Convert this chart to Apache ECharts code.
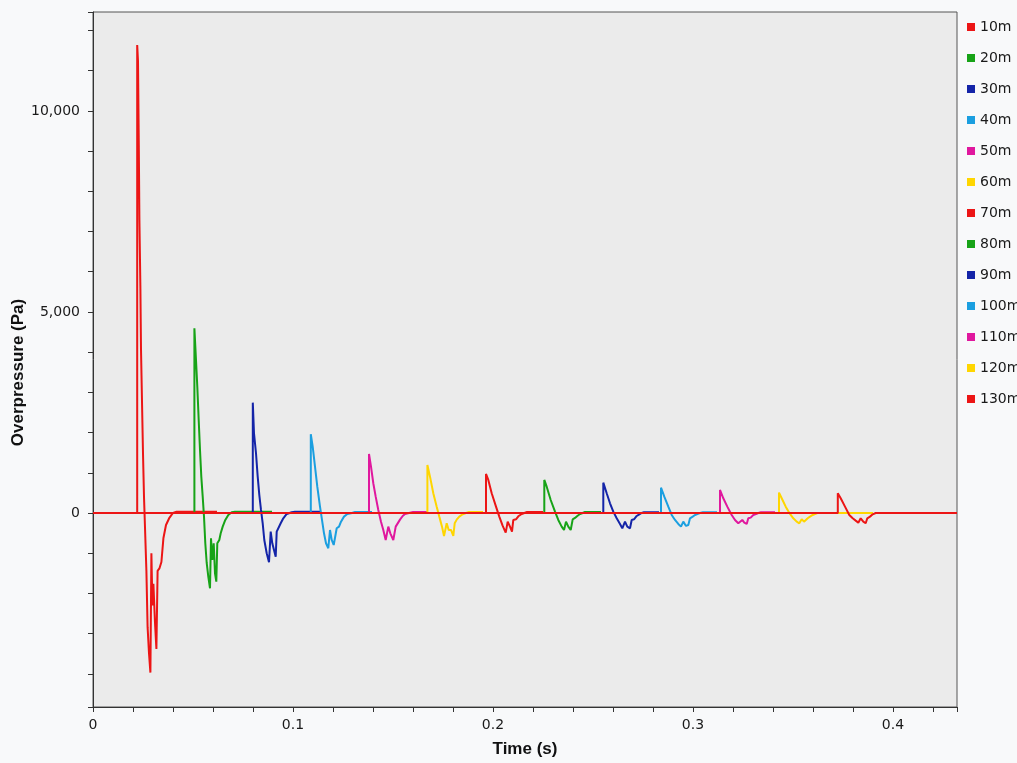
<!DOCTYPE html>
<html>
<head>
  <meta charset="utf-8">
  <title>Overpressure</title>
  <script src="https://cdn.jsdelivr.net/npm/echarts@6/dist/echarts.min.js"></script>
  <style>
    html, body { margin: 0; padding: 0; background: #f8f9fa; }
  </style>
</head>
<body>
  <div id="main" style="width:1017px;height:763px;"></div>
  <script type="text/javascript">
    // time (s), overpressure (Pa)
    var p10m = [[0,0],[0.0221,0],[0.0221,11640],[0.0225,11240],[0.0229,9140],[0.0232,7300],[0.0237,5580],[0.0240,4070],[0.0245,2770],[0.0250,1480],[0.0255,400],[0.0260,-360],[0.0267,-1440],[0.0273,-2840],[0.0280,-3490],[0.0287,-3970],[0.0292,-1000],[0.0297,-2300],[0.0302,-1760],[0.0310,-2730],[0.0317,-3380],[0.0323,-1440],[0.0332,-1380],[0.0342,-1220],[0.0352,-630],[0.0365,-300],[0.0382,-120],[0.0400,0],[0.0418,33],[0.062,33]];
    var p20m = [[0,0],[0.0507,0],[0.0507,4594],[0.0515,3806],[0.05215,3142],[0.05285,2313],[0.0535,1567],[0.05415,903],[0.05485,406],[0.0555,-91],[0.05615,-754],[0.05685,-1244],[0.05765,-1584],[0.0585,-1874],[0.059,-630],[0.05965,-1169],[0.06035,-754],[0.061,-1500],[0.06165,-1708],[0.06215,-754],[0.06315,-672],[0.06385,-506],[0.06485,-340],[0.06615,-174],[0.06765,-50],[0.06935,17],[0.071,30],[0.0895,30]];
    var p30m = [[0,0],[0.0799,0],[0.0799,2744],[0.0805,1982],[0.0815,1485],[0.08235,903],[0.08315,448],[0.084,75],[0.08485,-257],[0.08565,-672],[0.08685,-1003],[0.088,-1227],[0.08885,-465],[0.08965,-754],[0.0905,-920],[0.09135,-1087],[0.09185,-465],[0.09285,-423],[0.09385,-257],[0.09515,-133],[0.09685,-25],[0.09935,17],[0.101,30],[0.1135,30]];
    var p40m = [[0,0],[0.1089,0],[0.1089,1958],[0.10985,1650],[0.111,1152],[0.11215,654],[0.1135,157],[0.1145,-174],[0.1155,-506],[0.1165,-754],[0.11765,-878],[0.1185,-423],[0.11935,-672],[0.12035,-796],[0.12135,-821],[0.12185,-381],[0.123,-340],[0.124,-216],[0.1255,-91],[0.12715,-25],[0.1295,0],[0.131,25],[0.1395,25]];
    var p50m = [[0,0],[0.138,0],[0.138,1468],[0.139,1152],[0.14015,739],[0.14135,406],[0.14265,75],[0.144,-216],[0.14515,-423],[0.14635,-672],[0.147,-655],[0.14765,-340],[0.14865,-506],[0.14935,-547],[0.15015,-672],[0.151,-672],[0.15135,-340],[0.15235,-299],[0.1535,-166],[0.15485,-75],[0.156,-25],[0.158,0],[0.160,25],[0.167,25]];
    var p60m = [[0,0],[0.1672,0],[0.1672,1194],[0.1685,903],[0.17015,490],[0.17185,157],[0.17315,-91],[0.1745,-340],[0.1755,-572],[0.17685,-257],[0.17785,-423],[0.179,-423],[0.18015,-572],[0.18085,-257],[0.18185,-166],[0.18315,-91],[0.18485,-33],[0.1865,0],[0.188,25],[0.195,25]];
    var p70m = [[0,0],[0.1965,0],[0.1965,970],[0.19765,821],[0.19935,490],[0.2015,157],[0.20315,-91],[0.20485,-323],[0.20635,-489],[0.20735,-216],[0.2085,-340],[0.2095,-465],[0.21015,-174],[0.2115,-158],[0.21285,-75],[0.21435,-25],[0.2157,0],[0.217,25],[0.225,25]];
    var p80m = [[0,0],[0.22565,0],[0.22565,821],[0.22685,654],[0.22885,323],[0.231,33],[0.23265,-174],[0.23435,-340],[0.2355,-423],[0.2365,-216],[0.23765,-340],[0.23885,-423],[0.23985,-158],[0.241,-124],[0.24215,-75],[0.2435,-25],[0.24485,0],[0.246,25],[0.254,25]];
    var p90m = [[0,0],[0.25515,0],[0.25515,754],[0.25685,490],[0.2585,241],[0.26015,33],[0.26185,-133],[0.2635,-274],[0.26465,-381],[0.266,-216],[0.26715,-340],[0.2685,-381],[0.26935,-174],[0.2705,-158],[0.27185,-75],[0.27315,-33],[0.27435,0],[0.2755,20],[0.283,20]];
    var p100m = [[0,0],[0.284,0],[0.284,630],[0.28565,406],[0.28765,157],[0.28935,-50],[0.291,-174],[0.29265,-274],[0.294,-340],[0.29515,-216],[0.2965,-323],[0.29765,-299],[0.2985,-133],[0.29985,-91],[0.301,-50],[0.30215,-25],[0.3035,0],[0.305,20],[0.312,20]];
    var p110m = [[0,0],[0.3135,0],[0.3135,572],[0.31515,365],[0.31715,157],[0.31935,-50],[0.321,-174],[0.32265,-257],[0.3235,-299],[0.32465,-174],[0.32565,-241],[0.32685,-274],[0.32765,-133],[0.32885,-116],[0.33015,-50],[0.3315,-25],[0.33265,0],[0.334,20],[0.341,20]];
    var p120m = [[0,0],[0.343,0],[0.343,506],[0.34435,365],[0.34635,157],[0.3485,-25],[0.35015,-133],[0.35185,-216],[0.35315,-257],[0.35435,-158],[0.3555,-216],[0.3565,-257],[0.35735,-133],[0.3585,-91],[0.35985,-50],[0.361,-25],[0.36215,0],[0.39,0]];
    var p130m = [[0,0],[0.3724,0],[0.3724,490],[0.37385,365],[0.376,157],[0.37815,-50],[0.37985,-133],[0.38135,-191],[0.38265,-241],[0.38385,-133],[0.38515,-216],[0.38635,-257],[0.38715,-133],[0.3885,-91],[0.38985,-33],[0.39135,0],[0.432,0]];

    var names = ['10m','20m','30m','40m','50m','60m','70m','80m','90m','100m','110m','120m','130m'];
    var values = [p10m,p20m,p30m,p40m,p50m,p60m,p70m,p80m,p90m,p100m,p110m,p120m,p130m];
    var colors = ['#ec1515','#17a317','#1424a8','#1b9fe0','#e0189e','#ffd600'];

    var myChart = echarts.init(document.getElementById('main'));

    var series = names.map(function (n, i) {
      return {
        name: n,
        type: 'line',
        data: values[i],
        showSymbol: false,
        symbol: 'none',
        lineStyle: { width: 2, color: colors[i % 6] },
        itemStyle: { color: colors[i % 6] },
        emphasis: { disabled: true }
      };
    });

    var option = {
      animation: false,
      backgroundColor: '#f8f9fa',
      grid: {
        left: 93, top: 12, right: 60, bottom: 56,
        containLabel: false, outerBoundsMode: 'none',
        show: true, backgroundColor: '#ebebeb', borderColor: '#555', borderWidth: 1
      },
      legend: {
        orient: 'vertical',
        left: 962, top: 15,
        icon: 'rect',
        itemWidth: 8, itemHeight: 8, itemGap: 17,
        textStyle: { fontFamily: 'DejaVu Sans', fontSize: 14, color: '#1a1a1a', lineHeight: 14 },
        data: names
      },
      xAxis: {
        type: 'value',
        min: 0, max: 0.432, interval: 0.02,
        name: 'Time (s)', nameLocation: 'middle', nameGap: 34,
        nameTextStyle: { fontFamily: 'Liberation Sans', fontWeight: 'bold', fontSize: 17, color: '#111' },
        axisLine: { onZero: false, lineStyle: { color: '#333', width: 1 } },
        axisTick: { show: true, length: 5, lineStyle: { color: '#333' } },
        splitLine: { show: false },
        axisLabel: {
          margin: 11, fontFamily: 'DejaVu Sans', fontSize: 14, color: '#1a1a1a',
          formatter: function (v) {
            var k = v * 10;
            return Math.abs(k - Math.round(k)) < 1e-6 ? String(Math.round(k) / 10) : '';
          }
        }
      },
      yAxis: {
        type: 'value',
        min: -4826, max: 12460, splitNumber: 17,
        name: 'Overpressure (Pa)', nameLocation: 'middle', nameGap: 66, nameMoveOverlap: false,
        nameTextStyle: { fontFamily: 'Liberation Sans', fontWeight: 'bold', fontSize: 17, color: '#111', padding: [0, 26, 0, 0] },
        axisLine: { show: true, onZero: false, lineStyle: { color: '#333', width: 1 } },
        axisTick: { show: true, length: 5, lineStyle: { color: '#333' } },
        splitLine: { show: false },
        axisLabel: {
          margin: 13, fontFamily: 'DejaVu Sans', fontSize: 14, color: '#1a1a1a',
          formatter: function (v) {
            return Math.abs(v % 5000) < 1e-6 ? v.toLocaleString('en-US') : '';
          }
        }
      },
      series: series
    };

    myChart.setOption(option);
  </script>
</body>
</html>
